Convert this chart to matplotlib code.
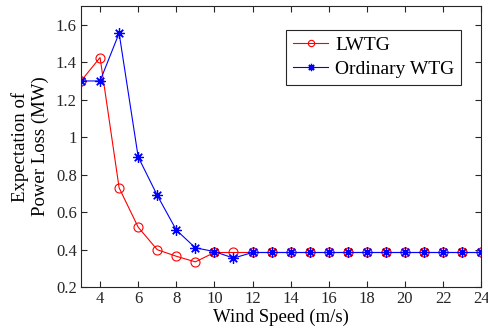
import matplotlib.pyplot as plt

plt.rcParams['font.family'] = ['Liberation Serif', 'DejaVu Serif']

# Wind speed (m/s) and expected power loss (MW)
wind_speed = list(range(3, 25))
lwtg = [1.30, 1.425, 0.73, 0.52, 0.40, 0.365, 0.335, 0.385, 0.385,
        0.385, 0.385, 0.385, 0.385, 0.385, 0.385, 0.385, 0.385, 0.385,
        0.385, 0.385, 0.385, 0.385]
ordinary = [1.30, 1.30, 1.555, 0.895, 0.69, 0.505, 0.41, 0.39, 0.355,
            0.385, 0.385, 0.385, 0.385, 0.385, 0.385, 0.385, 0.385, 0.385,
            0.385, 0.385, 0.385, 0.385]
x_ticks = [4, 6, 8, 10, 12, 14, 16, 18, 20, 22, 24]
y_ticks = [0.2, 0.4, 0.6, 0.8, 1.0, 1.2, 1.4, 1.6]
y_tick_labels = ['0.2', '0.4', '0.6', '0.8', '1', '1.2', '1.4', '1.6']

fig = plt.figure(figsize=(4.88, 3.32), dpi=100)
ax = fig.add_axes([0.166, 0.135, 0.82, 0.847])

ax.plot(wind_speed, lwtg, color='red', marker='o', markersize=6.5,
        markerfacecolor='none', markeredgewidth=0.8, linewidth=0.8,
        label='LWTG')
# MATLAB-style '*' marker: eight spokes
ax.plot(wind_speed, ordinary, color='blue', marker=(8, 2, 0), markersize=7.5,
        markeredgewidth=0.9, linewidth=0.8, label='Ordinary WTG')

ax.set_xlim(3, 24)
ax.set_ylim(0.2, 1.7)
ax.set_xticks(x_ticks)
ax.set_yticks(y_ticks)
ax.set_yticklabels(y_tick_labels)
ax.tick_params(direction='in', top=True, right=True, labelsize=12,
               colors='#262626', length=4, pad=3)
for s in ax.spines.values():
    s.set_color('#262626')
    s.set_linewidth(0.8)

ax.set_xlabel('Wind Speed (m/s)', fontsize=13.5, labelpad=1)
ax.set_ylabel('Expectation of\nPower Loss (MW)', fontsize=13.5, labelpad=5)

leg = ax.legend(loc='upper right', bbox_to_anchor=(0.95, 0.915), fontsize=14,
                fancybox=False, edgecolor='#262626', framealpha=1,
                handlelength=1.8, borderpad=0.35, labelspacing=0.3,
                handletextpad=0.35, borderaxespad=0, markerscale=0.7)
leg.get_frame().set_linewidth(0.8)

plt.savefig('out.png')
